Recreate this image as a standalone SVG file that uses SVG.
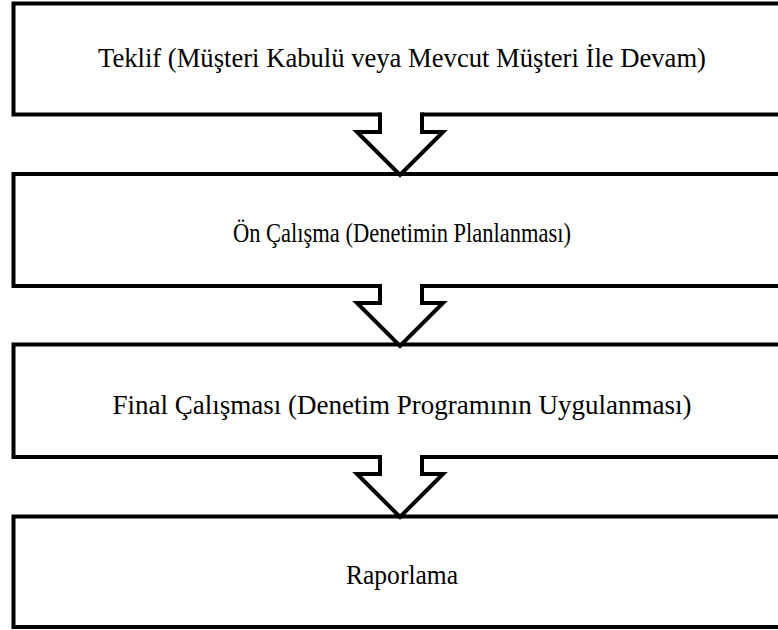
<svg xmlns="http://www.w3.org/2000/svg" width="778" height="630" viewBox="0 0 778 630">
<style>
.box{fill:none;stroke:#000;stroke-width:4}
.lbl{font-family:"Liberation Serif","Times New Roman",serif;font-size:27px;fill:#000;text-anchor:middle}
.arr{fill:none;stroke:#000;stroke-width:4;stroke-linejoin:miter}
.gap{fill:#fff}
</style>
<rect width="778" height="630" fill="#fff"/>
<g id="node1">
<rect class="box" x="13.5" y="3.5" width="800" height="111"/>
<text class="lbl" x="402" y="67" textLength="608" lengthAdjust="spacingAndGlyphs">Teklif (Müşteri Kabulü veya Mevcut Müşteri İle Devam)</text>
</g>
<g id="node2">
<rect class="box" x="13.5" y="174" width="800" height="112"/>
<text class="lbl" x="402" y="242" textLength="338" lengthAdjust="spacingAndGlyphs">Ön Çalışma (Denetimin Planlanması)</text>
</g>
<g id="node3">
<rect class="box" x="13.5" y="344.5" width="800" height="112.5"/>
<text class="lbl" x="402" y="414" textLength="579" lengthAdjust="spacingAndGlyphs">Final Çalışması (Denetim Programının Uygulanması)</text>
</g>
<g id="node4">
<rect class="box" x="13.5" y="516.5" width="800" height="110.5"/>
<text class="lbl" x="402" y="584" textLength="112" lengthAdjust="spacingAndGlyphs">Raporlama</text>
</g>
<g id="connectors">
<rect class="gap" x="381" y="111" width="40" height="8"/>
<path class="arr" d="M380,112.5 V132 H357 L400,175 L443,132 H422 V112.5"/>
<rect class="gap" x="381" y="283" width="40" height="8"/>
<path class="arr" d="M380,284 V303 H357 L400,346 L443,303 H422 V284"/>
<rect class="gap" x="381" y="454" width="40" height="8"/>
<path class="arr" d="M380,455 V474 H357 L400,517 L443,474 H422 V455"/>
</g>
</svg>
